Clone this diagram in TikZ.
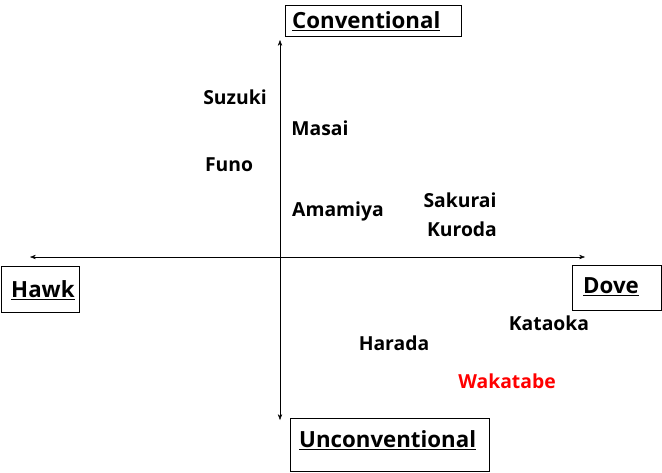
\documentclass[tikz,border=0pt]{standalone}
\usepackage{fontspec}
\setmainfont{Open Sans}
\usetikzlibrary{arrows.meta}
\tikzset{
  axis/.style={{Stealth[length=5pt]}-{Stealth[length=5pt]}, thin},
  pole/.style={draw, thin, rectangle, inner sep=0pt},
  poletext/.style={anchor=west, inner sep=0pt, font=\fontsize{19}{22}\selectfont\bfseries},
  member/.style={font=\fontsize{16.5}{19}\selectfont\bfseries, inner sep=1pt}
}
\begin{document}
\begin{tikzpicture}[x=0.03cm,y=-0.03cm]
  \useasboundingbox (0,0) rectangle (662,473);
  % poles
  \node[pole, minimum width=176*0.03cm, minimum height=31*0.03cm] (conv) at (373,20.5) {};
  \node[poletext] (convtext) at (292,21) {\underline{Conventional}};
  \node[pole, minimum width=199*0.03cm, minimum height=53*0.03cm] (unconv) at (389.5,444.5) {};
  \node[poletext] (unconvtext) at (299,440) {\underline{Unconventional}};
  \node[pole, minimum width=78*0.03cm, minimum height=46*0.03cm] (hawk) at (40,289) {};
  \node[poletext] (hawktext) at (11,290) {\underline{Hawk}};
  \node[pole, minimum width=89*0.03cm, minimum height=45*0.03cm] (dove) at (616.5,287.5) {};
  \node[poletext] (dovetext) at (583,287) {\underline{Dove}};
  % axes
  \coordinate (top) at (280,40);
  \coordinate (bot) at (280,420);
  \coordinate (left) at (30,257);
  \coordinate (right) at (585,257);
  \draw[axis] (top) -- (bot);
  \draw[axis] (left) -- (right);
  % members
  \node[member] (suzuki) at (235,97) {Suzuki};
  \node[member] (masai) at (320,128) {Masai};
  \node[member] (funo) at (229,165) {Funo};
  \node[member] (amamiya) at (338,211) {Amamiya};
  \node[member] (sakurai) at (460,200) {Sakurai};
  \node[member] (kuroda) at (462,229) {Kuroda};
  \node[member] (kataoka) at (549,323) {Kataoka};
  \node[member] (harada) at (394,343) {Harada};
  \node[member, text=red] (wakatabe) at (507,381) {Wakatabe};
\end{tikzpicture}
\end{document}
